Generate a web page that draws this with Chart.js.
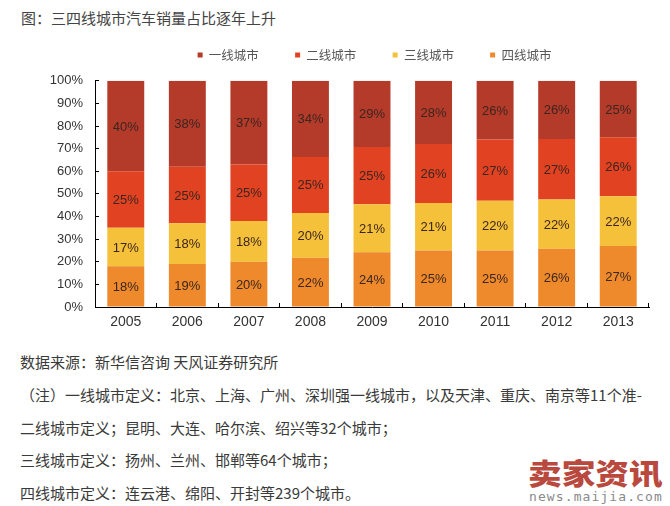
<!DOCTYPE html>
<html>
<head>
<meta charset="utf-8">
<script src="https://cdn.jsdelivr.net/npm/chart.js@4.4.1/dist/chart.umd.min.js"></script>
<style>
  html, body { margin: 0; padding: 0; background: #fff; overflow: hidden; }
  body { width: 670px; height: 506px; position: relative; font-family: "Noto Sans CJK SC", sans-serif; color: #333; }
  #title { position: absolute; left: 21px; top: 8px; font-size: 15px; line-height: 20px; color: #444; white-space: nowrap; }
  #wrap { position: absolute; left: 0; top: 0; width: 670px; height: 341px; }
  .note { position: absolute; left: 20px; font-size: 15px; line-height: 20px; white-space: nowrap; color: #3a3a3a; }
  #wm { position: absolute; left: 528px; top: 452px; font-size: 29px; line-height: 40px; font-weight: 900; color: #b9493e;
        transform: scaleX(1.16); transform-origin: left center; white-space: nowrap; }
  #wm2 { position: absolute; left: 529px; top: 488px; font-family: "DejaVu Sans Mono", monospace; font-size: 13px; line-height: 18px;
         letter-spacing: 1.1px; color: #8a8a8a; white-space: nowrap; }
</style>
</head>
<body>
<div id="title">图：三四线城市汽车销量占比逐年上升</div>
<div id="wrap"><canvas id="chart" width="670" height="341"></canvas></div>
<div class="note" style="top:352px">数据来源：新华信咨询 天风证券研究所</div>
<div class="note" style="top:385px">（注）一线城市定义：北京、上海、广州、深圳强一线城市，以及天津、重庆、南京等11个准-</div>
<div class="note" style="top:418px">二线城市定义；昆明、大连、哈尔滨、绍兴等32个城市；</div>
<div class="note" style="top:450px">三线城市定义：扬州、兰州、邯郸等64个城市；</div>
<div class="note" style="top:483px">四线城市定义：连云港、绵阳、开封等239个城市。</div>
<div id="wm">卖家资讯</div>
<div id="wm2">news.maijia.com</div>
<script>
// data (percent labels)
const years = ["2005", "2006", "2007", "2008", "2009", "2010", "2011", "2012", "2013"];
const tier1 = [40, 38, 37, 34, 29, 28, 26, 26, 25];
const tier2 = [25, 25, 25, 25, 25, 26, 27, 27, 26];
const tier3 = [17, 18, 18, 20, 21, 21, 22, 22, 22];
const tier4 = [18, 19, 20, 22, 24, 25, 25, 26, 27];
const seriesNames = ["一线城市", "二线城市", "三线城市", "四线城市"];
const yTickValues = [0, 10, 20, 30, 40, 50, 60, 70, 80, 90, 100];

const colors = ["#B43A2A", "#E04222", "#F6C13A", "#EE8A2C"];
const allSeries = [tier1, tier2, tier3, tier4];

// 100% stacked: each column is scaled to its own total
const totals = years.map((y, i) => allSeries.reduce((s, arr) => s + arr[i], 0));
const toShare = arr => arr.map((v, i) => v / totals[i] * 100);

// bottom of the stack first, legend is reversed so 一线 comes first
const datasets = [3, 2, 1, 0].map(k => ({
  label: seriesNames[k],
  data: toShare(allSeries[k]),
  raw: allSeries[k],
  backgroundColor: colors[k],
  borderWidth: 0,
  categoryPercentage: 1,
  barPercentage: 0.6
}));

const segmentLabels = {
  id: "segmentLabels",
  afterDatasetsDraw(chart) {
    const ctx = chart.ctx;
    ctx.save();
    ctx.font = "13px 'Liberation Sans', Arial, sans-serif";
    ctx.fillStyle = "#3b2620";
    ctx.textAlign = "center";
    ctx.textBaseline = "middle";
    chart.data.datasets.forEach((ds, di) => {
      chart.getDatasetMeta(di).data.forEach((bar, i) => {
        const cy = (bar.y + bar.base) / 2;
        ctx.fillText(ds.raw[i] + "%", bar.x, cy + 1);
      });
    });
    ctx.restore();
  }
};

// nudge the legend to where the original had it
const legendPlace = {
  id: "legendPlace",
  afterLayout(chart) {
    const lg = chart.legend;
    if (!lg) return;
    const pad = lg.options.labels.padding;
    const dy = 55 - (lg.top + pad + 6.25);
    lg.top += dy; lg.bottom += dy;
    lg.left += 2.5; lg.right += 2.5;
  }
};

new Chart(document.getElementById("chart"), {
  type: "bar",
  data: { labels: years, datasets },
  plugins: [segmentLabels, legendPlace],
  options: {
    responsive: false,
    animation: false,
    layout: { padding: { top: 22, right: 21, left: 0, bottom: 0 } },
    plugins: {
      tooltip: { enabled: false },
      legend: {
        position: "top",
        fullSize: false,
        reverse: true,
        labels: {
          boxWidth: 5,
          boxHeight: 5,
          padding: 36.25,
          color: "#555",
          font: { family: "'Noto Sans CJK SC', sans-serif", size: 12.5 }
        }
      }
    },
    scales: {
      x: {
        stacked: true,
        afterFit: s => { s.height = 34; },
        grid: { display: true, drawOnChartArea: false, drawTicks: true, tickLength: -4, color: "#000", offset: true },
        border: { display: true, color: "#000", width: 1 },
        ticks: { color: "#333", padding: 11, font: { family: "'Liberation Sans', Arial, sans-serif", size: 14 } }
      },
      y: {
        stacked: true,
        min: 0,
        max: 100,
        afterFit: s => { s.width = 95; },
        afterBuildTicks: s => { s.ticks = yTickValues.map(v => ({ value: v })); },
        grid: { display: true, drawOnChartArea: false, drawTicks: true, tickLength: -4, color: "#000" },
        border: { display: true, color: "#000", width: 1 },
        ticks: {
          color: "#333",
          padding: 16,
          font: { family: "'Liberation Sans', Arial, sans-serif", size: 13 },
          callback: v => v + "%"
        }
      }
    }
  }
});
</script>
</body>
</html>
